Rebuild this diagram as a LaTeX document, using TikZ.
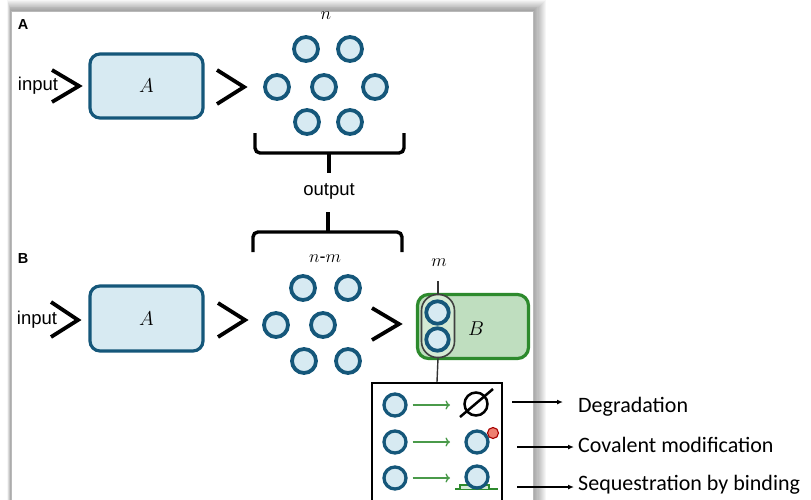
\documentclass[tikz,border=0pt]{standalone}
\usepackage{fix-cm}
\usepackage{fontspec}
\setmainfont{Liberation Sans}
\newfontfamily\calfont{Carlito}
\usetikzlibrary{arrows.meta,calc}
\definecolor{ctteal}{HTML}{15577A}
\definecolor{cfill}{HTML}{D7EAF2}
\definecolor{gfill}{HTML}{BFDEBF}
\definecolor{gfilllt}{HTML}{D4EAD4}
\definecolor{gline}{HTML}{2D8A2D}
\definecolor{garrow}{HTML}{4A9A4A}
\definecolor{rfill}{HTML}{EE7F70}
\begin{document}
\begin{tikzpicture}[x=1pt,y=-1pt,
  mol/.style={circle, draw=ctteal, line width=3.8pt, fill=cfill, minimum size=24pt, inner sep=0pt},
  smol/.style={circle, draw=ctteal, line width=3.3pt, fill=cfill, minimum size=22pt, inner sep=0pt},
  procbox/.style={rounded corners=10pt, draw=ctteal, line width=3.2pt, fill=cfill, minimum width=113pt, minimum height=64pt, inner sep=0pt},
  chev/.style={line width=3.8pt, line join=miter},
  brace/.style={line width=3.4pt, rounded corners=5pt},
  txt/.style={font=\fontsize{18.5}{18.5}\selectfont, inner sep=0pt},
  lab/.style={font=\bfseries\fontsize{14.5}{14.5}\selectfont, inner sep=0pt},
  mth/.style={font=\fontsize{18}{18}\selectfont, inner sep=0pt},
  cal/.style={font=\calfont\fontsize{22}{22}\selectfont, inner sep=0pt, anchor=base west},
  garr/.style={draw=garrow, line width=1.3pt, -{To[length=4.5pt,width=9pt]}},
  rarr/.style={line width=1.2pt, -{Latex[length=6pt,width=5pt]}}]
\useasboundingbox (0,0) rectangle (811,499);
\clip (0,0) rectangle (811,499);
% page shadow
\foreach \i in {1,...,12} {
  \fill[black,opacity=0.035] ({11-0.3*\i},{11-0.9*\i}) rectangle ({533+1.1*\i},520);
}
\fill[white] (11,11) rectangle (533,520);
\draw[gray!55, line width=0.8pt] (11,520) -- (11,11) -- (533,11) -- (533,520);

% ---------- Panel A ----------
\node[lab] (labA) at (23,25) {A};
\node[txt] (inA) at (38,86) {input};
\draw[chev] (52,70) -- (79,86) -- (52,102);
\node[procbox] (boxA) at (146.5,86) {\fontsize{20}{20}\selectfont$A$};
\draw[chev] (217,70) -- (244,87) -- (217,104);
\node[mth] (nA) at (326,16) {$n$};
\node[mol] (a1) at (306,49) {};
\node[mol] (a2) at (350,49) {};
\node[mol] (a3) at (277,87) {};
\node[mol] (a4) at (324,87) {};
\node[mol] (a5) at (375,87) {};
\node[mol] (a6) at (307,122) {};
\node[mol] (a7) at (350,122) {};
\draw[brace] (255,133) -- (255,153) -- (404,153) -- (404,133);
\draw[line width=3.4pt] (329,152) -- (329,173);
\node[txt] (out) at (329,191) {output};
\draw[line width=3.4pt] (328,212) -- (328,233);
\draw[brace] (253,252) -- (253,232) -- (402,232) -- (402,252);

% ---------- Panel B ----------
\node[lab] (labB) at (23,259) {B};
\node[mth] (nm) at (325,259) {$n$-$m$};
\node[txt] (inB) at (37,320) {input};
\draw[chev] (51,302) -- (78,320) -- (51,337);
\node[procbox, minimum height=65pt] (boxA2) at (146.5,318.5) {\fontsize{20}{20}\selectfont$A$};
\draw[chev] (218,303) -- (245,320) -- (218,337);
\node[mol] (b1) at (303,288) {};
\node[mol] (b2) at (348,288) {};
\node[mol] (b3) at (276,325) {};
\node[mol] (b4) at (323,325) {};
\node[mol] (b5) at (304,361) {};
\node[mol] (b6) at (348,361) {};
\draw[chev] (372,308) -- (399,324) -- (372,340);

\node[rounded corners=11pt, draw=gline, line width=3.2pt, fill=gfill, minimum width=111pt, minimum height=64pt] (boxB) at (473,326.5) {};
\node[font=\fontsize{20}{20}\selectfont] (labBB) at (476,329) {$B$};
\node[rounded corners=16pt, draw=black!75, line width=1.6pt, fill=gfilllt, minimum width=33pt, minimum height=63pt] (cap) at (438,326) {};
\node[mol, minimum size=22.5pt] (c1) at (437.5,312.5) {};
\node[mol, minimum size=22.5pt] (c2) at (437.5,339.5) {};
\node[mth] (mlab) at (439,263) {$m$};
\coordinate (mtop) at (438,281);
\draw[line width=1.4pt, black!80] (mtop) -- (cap.north);

% bottom box
\node[draw=black, line width=2.3pt, minimum width=130pt, minimum height=127pt] (bot) at (437,446.5) {};
\draw[line width=1.4pt, black!80] (cap.south) -- (bot.north);

\node[smol] (l1) at (395,405) {};
\node[smol] (l2) at (395,442) {};
\node[smol] (l3) at (395,478) {};
\node[circle, draw=black, line width=2.5pt, minimum size=23pt, inner sep=0pt] (r1) at (476,404) {};
\draw[line width=2.5pt] ($(r1.center)+(-16,13)$) -- ($(r1.center)+(17,-15)$);
\node[smol] (r2) at (477,442) {};
\node[circle, draw=red!65!black, fill=rfill, line width=1.1pt, minimum size=11pt, inner sep=0pt] (mod) at (493,433) {};
\draw[gline, line width=1.2pt] (455,489) -- (498,489);
\draw[gline, line width=1.2pt, fill=gfilllt] (460,489) -- (460,485) -- (489,485) -- (489,489);
\node[smol] (r3) at (477,477) {};

\draw[garr] (l1.east) ++(5,0) -- (450,405);
\draw[garr] (l2.east) ++(5,0) -- (450,442);
\draw[garr] (l3.east) ++(5,0) -- (450,478);

% right labels
\node[cal] (deg) at (578,412) {Degradation};
\node[cal] (cov) at (578,452) {Covalent modification};
\node[cal] (seq) at (578,490) {Sequestration by binding};
\coordinate (s1) at (512,402);
\coordinate (s2) at (517,447);
\coordinate (s3) at (517,487);
\draw[rarr] (s1) -- ($(s1 -| deg.west)+(-15,0)$);
\draw[rarr] (s2) -- ($(s2 -| cov.west)+(-4,0)$);
\draw[rarr] (s3) -- ($(s3 -| seq.west)+(-4,0)$);
\end{tikzpicture}
\end{document}
